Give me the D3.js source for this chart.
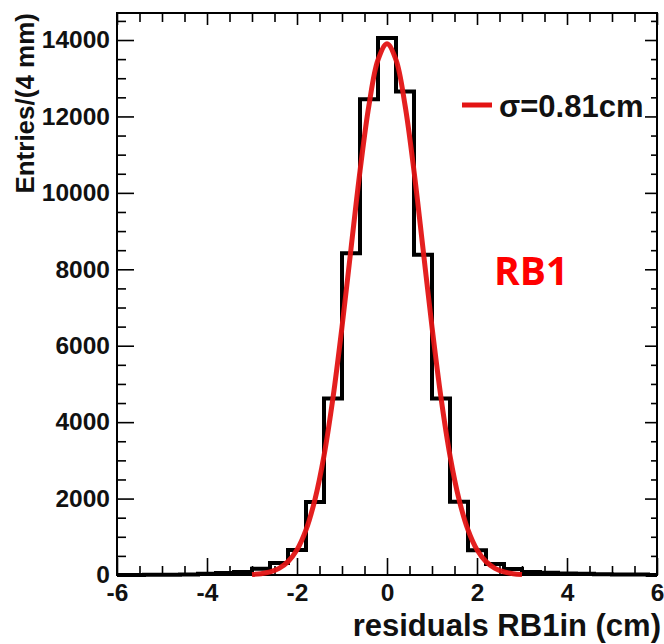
<!DOCTYPE html>
<html>
<head>
<meta charset="utf-8">
<script src="https://cdn.jsdelivr.net/npm/d3@7"></script>
<style>
  html, body { margin: 0; padding: 0; background: #fff; }
  svg { display: block; }
</style>
</head>
<body>
<svg id="chart" width="664" height="644"></svg>
<script>
// ---- data ----
const binCenters = [-6.0, -5.6, -5.2, -4.8, -4.4, -4.0, -3.6, -3.2, -2.8, -2.4, -2.0, -1.6, -1.2, -0.8, -0.4,
  0.0, 0.4, 0.8, 1.2, 1.6, 2.0, 2.4, 2.8, 3.2, 3.6, 4.0, 4.4, 4.8, 5.2, 5.6, 6.0];
const binCounts = [0, 2, 4, 8, 15, 30, 50, 80, 165, 315, 655, 1910, 4620, 8420, 12450,
  14050, 12650, 8380, 4620, 1920, 650, 290, 160, 80, 60, 40, 30, 20, 15, 10, 0];
const binWidth = 0.4;
const fitX = [-3.0, -2.8, -2.6, -2.4, -2.2, -2.0, -1.8, -1.6, -1.4, -1.2, -1.0, -0.8, -0.6, -0.4, -0.2,
  0.0, 0.2, 0.4, 0.6, 0.8, 1.0, 1.2, 1.4, 1.6, 1.8, 2.0, 2.2, 2.4, 2.6, 2.8, 3.0];
const fitY = [15, 35, 80, 175, 350, 660, 1180, 1980, 3120, 4640, 6490, 8540, 10570, 12300, 13480,
  13900, 13480, 12300, 10570, 8540, 6490, 4640, 3120, 1980, 1180, 660, 350, 175, 80, 35, 15];
const xMajorTicks = [-6, -4, -2, 0, 2, 4, 6];
const yMajorTicks = [0, 2000, 4000, 6000, 8000, 10000, 12000, 14000];
const xDomain = [-6, 6];
const yDomain = [0, 14707];
const xTitle = "residuals RB1in (cm)";
const yTitle = "Entries/(4 mm)";
const legendLabel = "σ=0.81cm";
const annotation = "RB1";

// ---- layout ----
const L = 117, R = 657, T = 13, B = 575;
const svg = d3.select("#chart");
svg.append("rect").attr("width", 664).attr("height", 644).attr("fill", "#fff");

const x = d3.scaleLinear().domain(xDomain).range([L, R]);
const y = d3.scaleLinear().domain(yDomain).range([B, T]);

const xMinor = d3.range(-6, 6.001, 0.5).filter(v => Math.abs(v / 2 - Math.round(v / 2)) > 1e-6);
const yMinor = d3.range(0, 14701, 500).filter(v => v % 2000 !== 0);

const font = "'Liberation Sans', Arial, Helvetica, sans-serif";
const fmt = d => String(d);

function styleAxis(g) {
  g.select(".domain").remove();
  g.selectAll(".tick line").attr("stroke", "#000").attr("stroke-width", 1.6);
}

// bottom axis
const gxb = svg.append("g").attr("transform", `translate(0,${B})`)
  .call(d3.axisBottom(x).tickValues(xMajorTicks).tickSize(-17).tickPadding(9).tickFormat(fmt));
styleAxis(gxb);
gxb.selectAll("text").attr("font-family", font).attr("font-weight", "bold")
  .attr("font-size", 24.5).attr("fill", "#111");
svg.append("g").attr("transform", `translate(0,${B})`)
  .call(d3.axisBottom(x).tickValues(xMinor).tickSize(-9).tickFormat(""))
  .call(styleAxis);

// top axis
svg.append("g").attr("transform", `translate(0,${T})`)
  .call(d3.axisTop(x).tickValues(xMajorTicks).tickSize(-12).tickFormat(""))
  .call(styleAxis);
svg.append("g").attr("transform", `translate(0,${T})`)
  .call(d3.axisTop(x).tickValues(xMinor).tickSize(-9).tickFormat(""))
  .call(styleAxis);

// left axis
const gyl = svg.append("g").attr("transform", `translate(${L},0)`)
  .call(d3.axisLeft(y).tickValues(yMajorTicks).tickSize(-17).tickPadding(7).tickFormat(fmt));
styleAxis(gyl);
gyl.selectAll("text").attr("font-family", font).attr("font-weight", "bold")
  .attr("font-size", 24.5).attr("fill", "#111");
svg.append("g").attr("transform", `translate(${L},0)`)
  .call(d3.axisLeft(y).tickValues(yMinor).tickSize(-9).tickFormat(""))
  .call(styleAxis);

// right axis
svg.append("g").attr("transform", `translate(${R},0)`)
  .call(d3.axisRight(y).tickValues(yMajorTicks).tickSize(-12).tickFormat(""))
  .call(styleAxis);
svg.append("g").attr("transform", `translate(${R},0)`)
  .call(d3.axisRight(y).tickValues(yMinor).tickSize(-6).tickFormat(""))
  .call(styleAxis);

// frame
svg.append("rect").attr("x", L).attr("y", T).attr("width", R - L).attr("height", B - T)
  .attr("fill", "none").attr("stroke", "#000").attr("stroke-width", 2);

// histogram outline
const pts = [[xDomain[0], 0]];
binCenters.forEach((c, i) => {
  const lo = Math.max(c - binWidth / 2, xDomain[0]);
  const hi = Math.min(c + binWidth / 2, xDomain[1]);
  pts.push([lo, binCounts[i]], [hi, binCounts[i]]);
});
pts.push([xDomain[1], 0]);
svg.append("path")
  .attr("d", d3.line().x(d => x(d[0])).y(d => y(d[1]))(pts))
  .attr("fill", "none").attr("stroke", "#000").attr("stroke-width", 4)
  .attr("stroke-linejoin", "miter");

// fit curve
const red = "#e31414";
svg.append("path")
  .attr("d", d3.line().x((d, i) => x(fitX[i])).y(d => y(d)).curve(d3.curveCatmullRom)(fitY))
  .attr("fill", "none").attr("stroke", red).attr("stroke-width", 5)
  .attr("stroke-linejoin", "round").attr("opacity", 0.95);

// legend
svg.append("line").attr("x1", 462).attr("x2", 492).attr("y1", 105).attr("y2", 105)
  .attr("stroke", red).attr("stroke-width", 5);
svg.append("text").attr("x", 499).attr("y", 117).text(legendLabel)
  .attr("font-family", font).attr("font-weight", "bold").attr("font-size", 31).attr("fill", "#111");

// annotation
svg.append("text").attr("x", 494).attr("y", 285).text(annotation)
  .attr("font-family", "'Open Sans', sans-serif").attr("font-weight", "bold")
  .attr("font-size", 39).attr("fill", "#ff0000");

// axis titles
svg.append("text").attr("x", 661).attr("y", 636).attr("text-anchor", "end").text(xTitle)
  .attr("font-family", font).attr("font-weight", "bold").attr("font-size", 31).attr("fill", "#111");
svg.append("text").attr("transform", `translate(34,${T}) rotate(-90)`).attr("text-anchor", "end")
  .text(yTitle)
  .attr("font-family", font).attr("font-weight", "bold").attr("font-size", 26).attr("fill", "#111");
</script>
</body>
</html>
